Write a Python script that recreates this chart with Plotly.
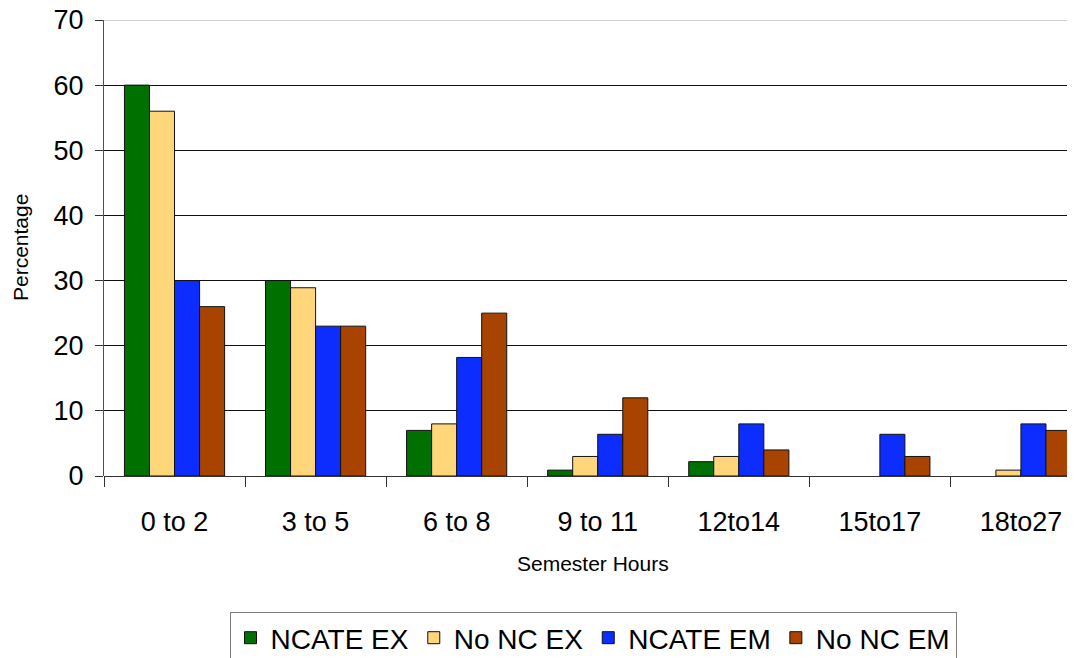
import plotly.graph_objects as go

categories = ["0 to 2", "3 to 5", "6 to 8", "9 to 11", "12to14", "15to17", "18to27"]
ncate_ex = [60, 30, 7, 0.9, 2.2, 0, 0]
no_nc_ex = [56, 28.9, 8, 3, 3, 0, 0.9]
ncate_em = [30, 23, 18.2, 6.4, 8, 6.4, 8]
no_nc_em = [26, 23, 25, 12, 4, 3, 7]

series = [
    ("NCATE EX", ncate_ex, "#007000"),
    ("No NC EX", no_nc_ex, "#FFD679"),
    ("NCATE EM", ncate_em, "#0D2DFF"),
    ("No NC EM", no_nc_em, "#A84400"),
]

fig = go.Figure()
for name, vals, col in series:
    fig.add_trace(go.Bar(
        name=name, x=categories, y=vals,
        marker=dict(color=col, line=dict(color="#111",
                                         width=[1 if v > 0 else 0 for v in vals])),
    ))

W, H = 1075, 658
ML, MT, MB = 96, 12, 190
plot_h = H - MT - MB
plot_w = W - ML

font = "Liberation Sans, Arial, sans-serif"
fig.update_layout(
    width=W, height=H,
    margin=dict(l=ML, r=0, t=MT, b=MB, autoexpand=False),
    paper_bgcolor="white", plot_bgcolor="white",
    barmode="group", bargap=0.29, bargroupgap=0,
    font=dict(family=font, color="black"),
    showlegend=True,
    legend=dict(
        orientation="h", x=585 / W, xref="container", xanchor="center",
        y=1 - 604 / H, yref="container", yanchor="top",
        font=dict(size=28, family=font), bordercolor="#808080", borderwidth=1,
        itemwidth=30, tracegroupgap=0,
    ),
    xaxis=dict(
        range=[-0.5, 6.44], showline=False, ticks="outside", tickson="boundaries",
        ticklen=10, tickcolor="#333", tickfont=dict(size=27),
        ticklabelstandoff=27, automargin=False, ticklabeloverflow="allow",
    ),
    yaxis=dict(
        range=[0, 70], dtick=10, showline=True, linecolor="#5a5048", linewidth=1,
        ticks="outside", ticklen=8, tickcolor="#333", tickfont=dict(size=27),
        ticklabelstandoff=6, automargin=False, ticklabeloverflow="allow",
        showgrid=True, gridcolor="#111", gridwidth=1, zeroline=True,
        zerolinecolor="#333", zerolinewidth=1,
    ),
    shapes=[dict(type="line", xref="paper", yref="y", x0=0, x1=1, y0=70, y1=70,
                 line=dict(color="#a0a0a0", width=1))],
    annotations=[
        dict(text="Semester Hours", xref="paper", yref="paper", x=(585 - ML) / plot_w,
             y=(468 - 555) / plot_h,
             xanchor="center", yanchor="middle", showarrow=False, font=dict(size=21)),
        dict(text="Percentage", xref="paper", yref="paper", x=(12 - ML) / plot_w, y=0.5,
             xanchor="center", yanchor="middle", showarrow=False, textangle=-90,
             font=dict(size=21)),
    ],
)

fig.write_html("out.html")
